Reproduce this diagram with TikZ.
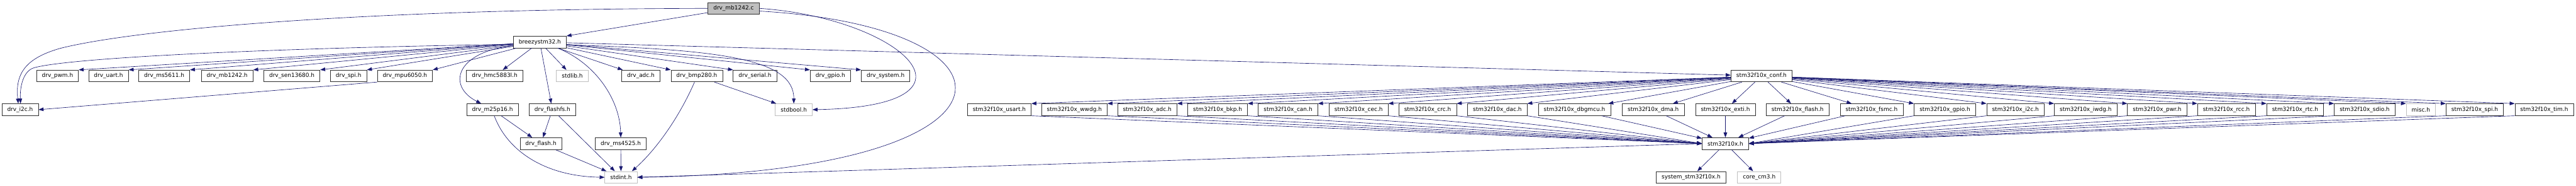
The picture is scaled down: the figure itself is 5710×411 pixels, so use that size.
\documentclass[tikz,border=0pt]{standalone}
\usepackage{fontspec}
\setmainfont{DejaVu Sans}
\usepackage{xcolor}
\usepackage{tikz}
\usetikzlibrary{arrows.meta}
\definecolor{midnight}{HTML}{191970}
\definecolor{grey75}{HTML}{BFBFBF}
\definecolor{boxline}{HTML}{303030}
\tikzset{
  filebox/.style={
    rectangle, draw=#1, fill=white, line width=1pt,
    minimum height=26pt, inner xsep=12pt, inner ysep=0pt,
    font=\fontsize{12.5}{14}\selectfont
  },
  filebox/.default=boxline,
  extbox/.style={filebox=grey75},
  rootbox/.style={filebox, fill=grey75},
  incarrow/.style={
    -{Triangle[length=11pt,width=8pt]}, draw=midnight, line width=0.9pt
  },
}

\begin{document}
\begin{tikzpicture}[x=1pt, y=-1pt]
  \useasboundingbox (0,0) rectangle (5710,411);
  \node[rootbox] (root) at (1626,18.5) {drv\_mb1242.c};
  \node[filebox] (breezy) at (1196.5,93) {breezystm32.h};

  \node[filebox] (pwm) at (127.5,168) {drv\_pwm.h};
  \node[filebox] (uart) at (240.5,168) {drv\_uart.h};
  \node[filebox] (ms5611) at (364,168) {drv\_ms5611.h};
  \node[filebox] (mbh) at (503.5,168) {drv\_mb1242.h};
  \node[filebox] (sen) at (647,168) {drv\_sen13680.h};
  \node[filebox] (spi) at (772.5,168) {drv\_spi.h};
  \node[filebox] (mpu) at (897.5,168) {drv\_mpu6050.h};
  \node[filebox] (hmc) at (1096.5,168) {drv\_hmc5883l.h};
  \node[extbox] (stdlib) at (1268.5,168) {stdlib.h};
  \node[filebox] (adc) at (1420.5,168) {drv\_adc.h};
  \node[filebox] (bmp) at (1544.5,168) {drv\_bmp280.h};
  \node[filebox] (serial) at (1673.5,168) {drv\_serial.h};
  \node[filebox] (gpio) at (1840.5,168) {drv\_gpio.h};
  \node[filebox] (system) at (1963,168) {drv\_system.h};
  \node[filebox] (conf) at (3904.5,168) {stm32f10x\_conf.h};

  \node[filebox] (i2c) at (44.5,242.5) {drv\_i2c.h};
  \node[filebox] (m25p16) at (1091.5,242.5) {drv\_m25p16.h};
  \node[filebox] (flashfs) at (1224.5,242.5) {drv\_flashfs.h};
  \node[extbox] (stdbool) at (1759.5,242.5) {stdbool.h};
  \node[filebox] (usart) at (2215,242.5) {stm32f10x\_usart.h};
  \node[filebox] (wwdg) at (2381.5,242.5) {stm32f10x\_wwdg.h};
  \node[filebox] (padc) at (2543,242.5) {stm32f10x\_adc.h};
  \node[filebox] (bkp) at (2699,242.5) {stm32f10x\_bkp.h};
  \node[filebox] (can) at (2855,242.5) {stm32f10x\_can.h};
  \node[filebox] (cec) at (3011.5,242.5) {stm32f10x\_cec.h};
  \node[filebox] (crc) at (3164.5,242.5) {stm32f10x\_crc.h};
  \node[filebox] (dac) at (3319,242.5) {stm32f10x\_dac.h};
  \node[filebox] (dbgmcu) at (3490,242.5) {stm32f10x\_dbgmcu.h};
  \node[filebox] (dma) at (3664.5,242.5) {stm32f10x\_dma.h};
  \node[filebox] (exti) at (3824.5,242.5) {stm32f10x\_exti.h};
  \node[filebox] (pflash) at (3984.5,242.5) {stm32f10x\_flash.h};
  \node[filebox] (fsmc) at (4148.5,242.5) {stm32f10x\_fsmc.h};
  \node[filebox] (pgpio) at (4311,242.5) {stm32f10x\_gpio.h};
  \node[filebox] (pi2c) at (4467.5,242.5) {stm32f10x\_i2c.h};
  \node[filebox] (iwdg) at (4623,242.5) {stm32f10x\_iwdg.h};
  \node[filebox] (pwr) at (4781.5,242.5) {stm32f10x\_pwr.h};
  \node[filebox] (rcc) at (4935,242.5) {stm32f10x\_rcc.h};
  \node[filebox] (rtc) at (5087.5,242.5) {stm32f10x\_rtc.h};
  \node[filebox] (sdio) at (5241.5,242.5) {stm32f10x\_sdio.h};
  \node[extbox] (misc) at (5366,242.5) {misc.h};
  \node[filebox] (pspi) at (5485.5,242.5) {stm32f10x\_spi.h};
  \node[filebox] (tim) at (5639.5,242.5) {stm32f10x\_tim.h};

  \node[filebox] (flash) at (1199,317.5) {drv\_flash.h};
  \node[filebox] (ms4525) at (1376,317.5) {drv\_ms4525.h};
  \node[filebox] (stm) at (3824.5,317.5) {stm32f10x.h};

  \node[extbox] (stdint) at (1376.5,392) {stdint.h};
  \node[filebox] (sysstm) at (3748.5,392) {system\_stm32f10x.h};
  \node[extbox] (core) at (3899.5,392) {core\_cm3.h};

  % includes of drv_mb1242.c
  \draw[incarrow] (root) -- (breezy.north east);
  \draw[incarrow] (root.west) .. controls (800,20) and (300,65) .. (133,107)
    .. controls (60,128) and (33,160) .. ([xshift=-4pt]i2c.north);
  \draw[incarrow] (root.east) .. controls (2000,40) and (2210,235) .. (stdbool.east);
  \draw[incarrow] ([yshift=-6pt]root.east) .. controls (2300,60) and (2300,380) .. (stdint.east);

  % includes of breezystm32.h
  \draw[incarrow] ([yshift=-5pt]breezy.west) .. controls (600,106) and (150,128) .. (75,150)
    .. controls (52,157) and (44,190) .. ([xshift=1pt]i2c.north);
  \foreach \n in {pwm,uart,ms5611,mbh,sen,spi,mpu}
    \draw[incarrow] (breezy) -- (\n.north east);
  \foreach \n in {hmc,stdlib,flashfs,adc,conf}
    \draw[incarrow] (breezy) -- (\n);
  \foreach \n in {bmp,serial,gpio,system}
    \draw[incarrow] (breezy) -- (\n.north west);
  \draw[incarrow] ([yshift=-8pt]breezy.west) .. controls (1010,115) and (990,190) .. ([xshift=-25pt]m25p16.north);
  \draw[incarrow] ([xshift=40pt]breezy.south) .. controls (1320,140) and (1374,220) .. (ms4525.north);
  \draw[incarrow] ([yshift=-6pt]breezy.east) .. controls (1600,110) and (1760,130) .. (stdbool.north);

  \draw[incarrow] (mpu.south west) -- (i2c.east);
  \draw[incarrow] (m25p16) -- (flash);
  \draw[incarrow] ([xshift=4pt]m25p16.south) .. controls (1125,335) and (1210,390) .. (stdint.west);
  \draw[incarrow] (flashfs) -- (flash);
  \draw[incarrow] (flashfs) -- (stdint);
  \draw[incarrow] (flash) -- (stdint);
  \draw[incarrow] (ms4525) -- (stdint);
  \draw[incarrow] ([xshift=-5pt]bmp.south) .. controls (1505,260) and (1455,330) .. ([xshift=-12pt]stdint.north east);
  \draw[incarrow] (bmp) -- (stdbool);

  % includes of stm32f10x_conf.h
  \foreach \n in {usart,wwdg,padc,bkp,can,cec,crc,dac}
    \draw[incarrow] (conf) -- (\n.north east);
  \foreach \n in {dbgmcu,dma,exti,pflash,fsmc}
    \draw[incarrow] (conf) -- (\n);
  \foreach \n in {pgpio,pi2c,iwdg,pwr,rcc,rtc,sdio,misc,pspi,tim}
    \draw[incarrow] (conf) -- (\n.north west);

  % peripheral headers to stm32f10x.h
  \foreach \n in {usart,wwdg,padc,bkp,can,cec,crc,dac}
    \draw[incarrow] (\n.south east) -- (stm.west);
  \foreach \n in {dbgmcu,dma,exti,pflash,fsmc}
    \draw[incarrow] (\n) -- (stm);
  \foreach \n in {pgpio,pi2c,iwdg,pwr,rcc,rtc,sdio,pspi,tim}
    \draw[incarrow] (\n.south west) -- (stm.east);

  \draw[incarrow] (stm) -- (sysstm);
  \draw[incarrow] (stm) -- (core);
  \draw[incarrow] (stm.west) -- (stdint.east);
\end{tikzpicture}
\end{document}
